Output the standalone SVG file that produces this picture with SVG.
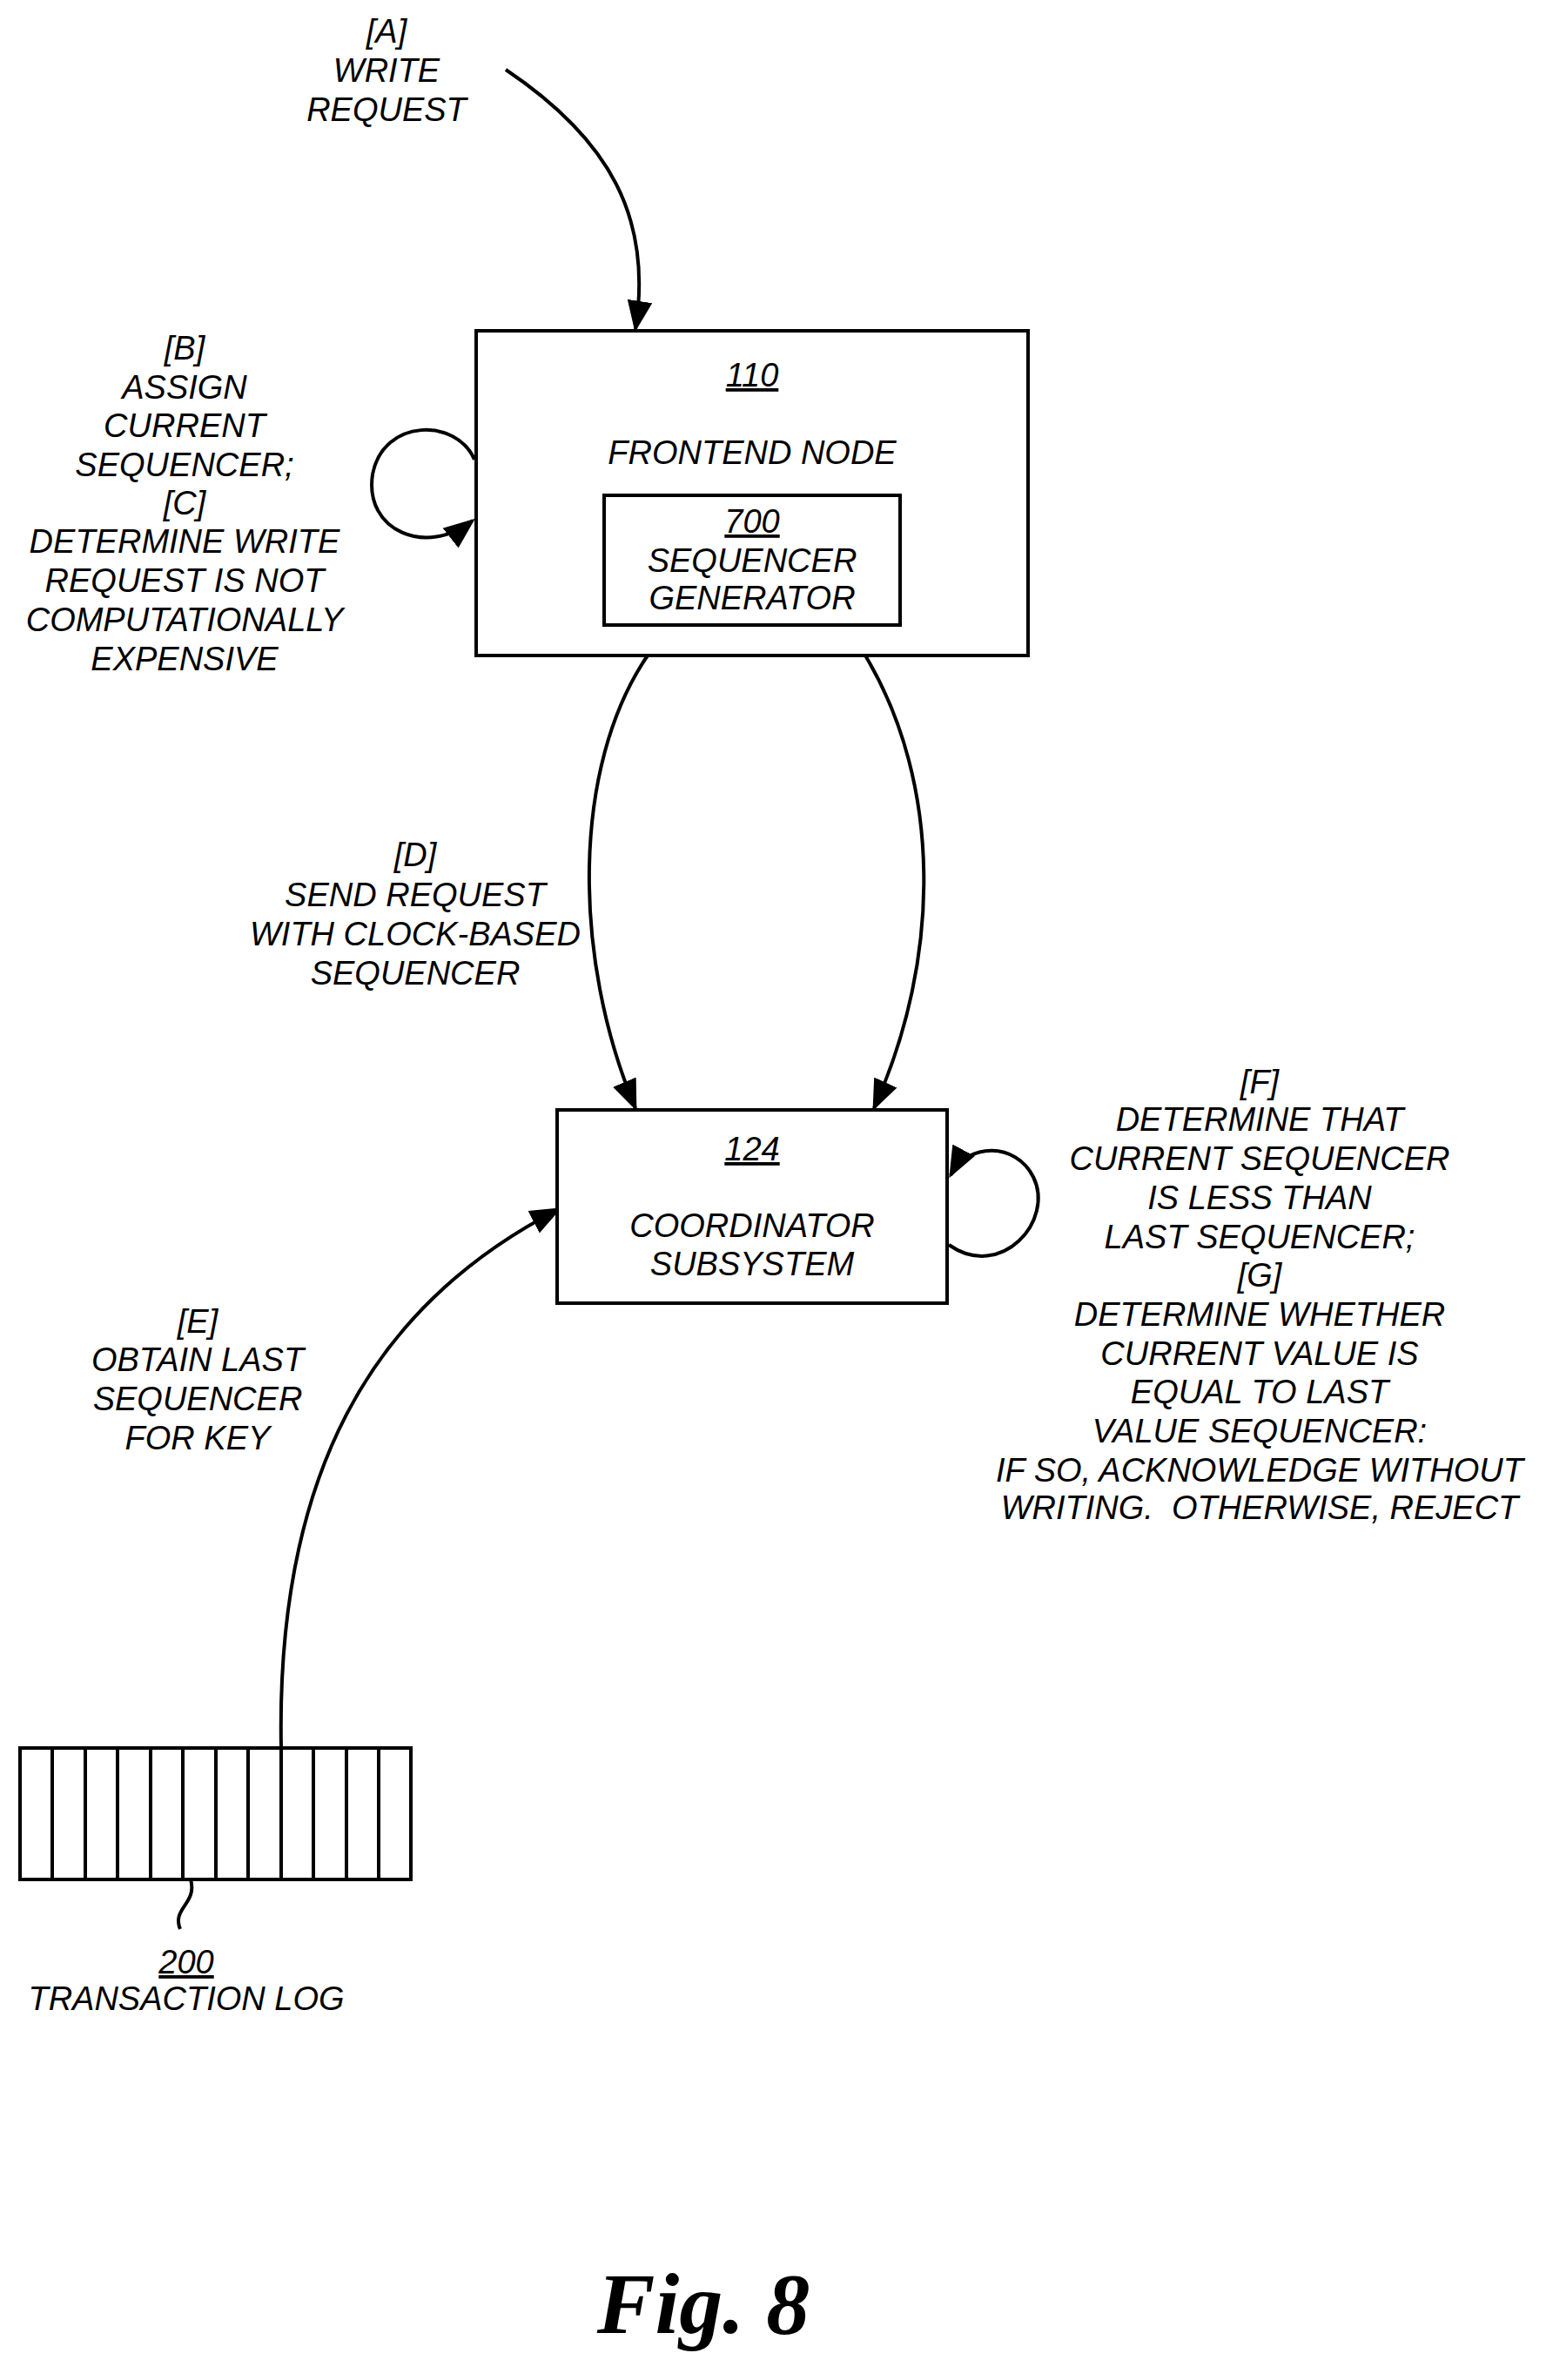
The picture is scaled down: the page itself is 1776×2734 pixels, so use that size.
<svg xmlns="http://www.w3.org/2000/svg" width="1776" height="2734" viewBox="0 0 1776 2734">
<style>
text{font-family:"Liberation Sans",Arial,sans-serif;font-style:italic;font-size:38px;text-anchor:middle;fill:#000;white-space:pre}
.u{text-decoration:underline}
.box{fill:#fff;stroke:#000;stroke-width:4}
.c{fill:none;stroke:#000;stroke-width:4}
.fig{font-family:"Liberation Serif","Times New Roman",serif;font-weight:bold;font-size:100px}
</style>
<defs><marker id="ah" viewBox="0 0 10 10" refX="9" refY="5" markerWidth="9" markerHeight="9" markerUnits="strokeWidth" orient="auto"><path d="M0,1 L10,5 L0,9 Z" fill="#000"/></marker></defs>
<rect width="1776" height="2734" fill="#fff"/>
<g id="connectors">
<path class="c" marker-end="url(#ah)" d="M581,80 C700,160 750,250 730,378"/>
<path class="c" marker-end="url(#ah)" d="M545,528 C525,480 440,480 428,545 C418,610 490,640 543,598"/>
<path class="c" marker-end="url(#ah)" d="M744,753 C657,880 657,1100 730,1273"/>
<path class="c" marker-end="url(#ah)" d="M994,753 C1082,900 1082,1100 1004,1273"/>
<path class="c" marker-end="url(#ah)" d="M1090,1430 C1150,1472 1212,1402 1187,1352 C1167,1312 1112,1312 1092,1350"/>
<path class="c" marker-end="url(#ah)" d="M323,2008 C317,1700 422,1502 642,1389"/>
<path class="c" stroke-width="3" d="M219,2159 C227,2187 197,2192 207,2216"/>
</g>
<g id="n110"><rect class="box" x="547" y="380" width="634" height="373"/>
<text class="u" x="864" y="444">110</text><text x="864" y="533">FRONTEND NODE</text></g>
<g id="n700"><rect class="box" x="694" y="569" width="340" height="149"/>
<text class="u" x="864" y="612">700</text><text x="864" y="657">SEQUENCER</text><text x="864" y="700">GENERATOR</text></g>
<g id="n124"><rect class="box" x="640" y="1275" width="448" height="222"/>
<text class="u" x="864" y="1333">124</text><text x="864" y="1421">COORDINATOR</text><text x="864" y="1465">SUBSYSTEM</text></g>
<g id="n200"><rect class="box" x="23" y="2008" width="449" height="151"/>
<path class="c" stroke-width="3" d="M60,2008V2159M98,2008V2159M135,2008V2159M173,2008V2159M210,2008V2159M248,2008V2159M285,2008V2159M323,2008V2159M360,2008V2159M398,2008V2159M435,2008V2159"/>
<text class="u" x="214" y="2267">200</text><text x="214" y="2309">TRANSACTION LOG</text></g>
<g id="labels">
<text x="444" y="49">[A]</text><text x="444" y="94">WRITE</text><text x="444" y="139">REQUEST</text>
<text x="212" y="413">[B]</text><text x="212" y="458">ASSIGN</text><text x="212" y="502">CURRENT</text><text x="212" y="547">SEQUENCER;</text><text x="212" y="591">[C]</text><text x="212" y="635">DETERMINE WRITE</text><text x="212" y="680">REQUEST IS NOT</text><text x="212" y="725">COMPUTATIONALLY</text><text x="212" y="770">EXPENSIVE</text>
<text x="477" y="995">[D]</text><text x="477" y="1041">SEND REQUEST</text><text x="477" y="1086">WITH CLOCK-BASED</text><text x="477" y="1131">SEQUENCER</text>
<text x="1447" y="1256">[F]</text><text x="1447" y="1299">DETERMINE THAT</text><text x="1447" y="1344">CURRENT SEQUENCER</text><text x="1447" y="1389">IS LESS THAN</text><text x="1447" y="1434">LAST SEQUENCER;</text><text x="1447" y="1478">[G]</text><text x="1447" y="1523">DETERMINE WHETHER</text><text x="1447" y="1568">CURRENT VALUE IS</text><text x="1447" y="1612">EQUAL TO LAST</text><text x="1447" y="1657">VALUE SEQUENCER:</text><text x="1447" y="1702">IF SO, ACKNOWLEDGE WITHOUT</text><text x="1447" y="1745">WRITING.  OTHERWISE, REJECT</text>
<text x="227" y="1531">[E]</text><text x="227" y="1575">OBTAIN LAST</text><text x="227" y="1620">SEQUENCER</text><text x="227" y="1665">FOR KEY</text>
<text class="fig" x="808" y="2680">Fig. 8</text>
</g>
</svg>
